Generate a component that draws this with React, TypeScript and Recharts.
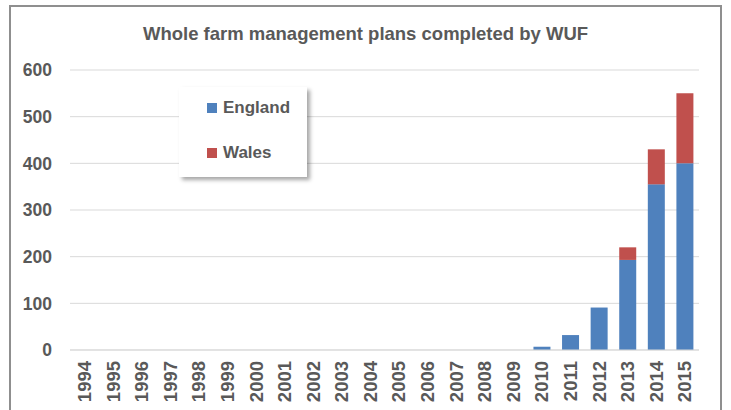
import React from 'react';
import { BarChart, Bar, XAxis, YAxis, CartesianGrid } from 'recharts';

const years = [
  '1994', '1995', '1996', '1997', '1998', '1999', '2000', '2001', '2002', '2003', '2004',
  '2005', '2006', '2007', '2008', '2009', '2010', '2011', '2012', '2013', '2014', '2015',
];
const england = [0, 0, 0, 0, 0, 0, 0, 0, 0, 0, 0, 0, 0, 0, 0, 0, 7, 32, 91, 193, 355, 400];
const wales = [0, 0, 0, 0, 0, 0, 0, 0, 0, 0, 0, 0, 0, 0, 0, 0, 0, 0, 0, 27, 75, 150];
const yTicks = [0, 100, 200, 300, 400, 500, 600];

const data = years.map((year, i) => ({ year, England: england[i], Wales: wales[i] }));

const FONT = '"Liberation Sans", Arial, sans-serif';
const TEXT = '#595959';

// rotated year labels under the bars
const YearTick = ({ x, y, payload }: any) => (
  <g transform={`translate(${x},${y})`}>
    <text
      transform="rotate(-90)"
      x={0}
      y={0}
      dy="0.36em"
      textAnchor="end"
      fill={TEXT}
      fontSize={18.5}
      fontWeight="bold"
      fontFamily={FONT}
    >
      {payload.value}
    </text>
  </g>
);

const App: React.FC = () => {
  return (
    <div style={{ position: 'absolute', left: 0, top: 0, width: 731, height: 410, overflow: 'hidden', background: '#fff' }}>
      <div
        style={{
          position: 'absolute',
          left: 9,
          top: 5,
          width: 709,
          height: 430,
          border: '2px solid #8f8f8f',
        }}
      />
      <div
        style={{
          position: 'absolute',
          left: 0,
          top: 0,
          width: 731,
          textAlign: 'center',
          paddingTop: 24,
          fontFamily: FONT,
          fontWeight: 'bold',
          fontSize: 18.5,
          color: TEXT,
          lineHeight: '20px',
        }}
      >
        Whole farm management plans completed by WUF
      </div>
      <div style={{ position: 'absolute', left: 0, top: 0 }}>
        <BarChart
          width={731}
          height={410}
          data={data}
          barSize={17}
          margin={{ top: 70, right: 32, left: 0, bottom: 0 }}
        >
          <CartesianGrid vertical={false} stroke="#d9d9d9" />
          <XAxis
            dataKey="year"
            height={60}
            interval={0}
            tickLine={false}
            axisLine={{ stroke: '#d9d9d9' }}
            tickMargin={5}
            tick={<YearTick />}
          />
          <YAxis
            width={70}
            domain={[0, 600]}
            ticks={yTicks}
            axisLine={false}
            tickLine={false}
            tickMargin={12}
            tick={{ fill: TEXT, fontSize: 17.5, fontWeight: 'bold', fontFamily: FONT }}
          />
          <Bar dataKey="England" stackId="a" fill="#4f81bd" isAnimationActive={false} />
          <Bar dataKey="Wales" stackId="a" fill="#c0504d" isAnimationActive={false} />
        </BarChart>
      </div>
      <div
        style={{
          position: 'absolute',
          left: 179,
          top: 87,
          width: 128,
          height: 90,
          background: '#fff',
          boxShadow: '3px 3px 4px rgba(0,0,0,0.35)',
          fontFamily: FONT,
          fontWeight: 'bold',
          fontSize: 17,
          color: TEXT,
        }}
      >
        <div style={{ position: 'absolute', left: 28, top: 11, display: 'flex', alignItems: 'center' }}>
          <span style={{ width: 10, height: 10, background: '#4f81bd', marginRight: 6 }} />
          England
        </div>
        <div style={{ position: 'absolute', left: 28, top: 56, display: 'flex', alignItems: 'center' }}>
          <span style={{ width: 10, height: 10, background: '#c0504d', marginRight: 6 }} />
          Wales
        </div>
      </div>
    </div>
  );
};

export default App;
